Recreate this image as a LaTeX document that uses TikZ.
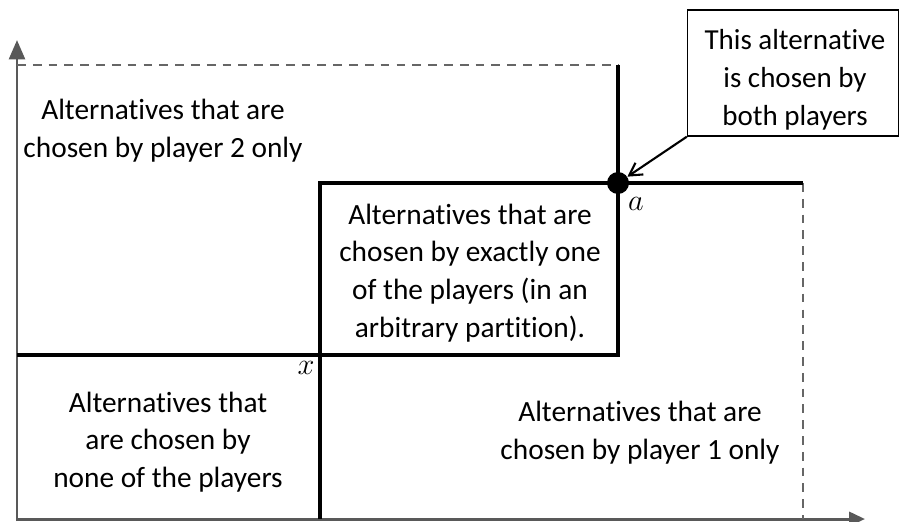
\documentclass[tikz,border=0pt]{standalone}
\usepackage{fontspec}
\setmainfont{Carlito}[Ligatures=NoCommon]
\usetikzlibrary{arrows.meta}
\begin{document}
\begin{tikzpicture}[x=0.02cm, y=-0.02cm,
    axis/.style={draw=black!65, line width=1.7pt},
    bound/.style={line width=2.8pt},
    limit/.style={draw=black!60, line width=1.1pt, dash pattern=on 5pt off 4pt},
    region/.style={align=center, font=\fontsize{16.7}{21.5}\selectfont},
    mark label/.style={font=\fontsize{17}{20}\selectfont},
    callout/.style={draw, line width=0.8pt, minimum width=4.22cm, minimum height=2.52cm}]

    \useasboundingbox (0,0) rectangle (899,521);

    % Axes
    \draw[axis, -{Triangle[length=11pt, width=9pt]}] (17,521) -- (17,40);
    \draw[axis, -{Triangle[length=9pt, width=8pt]}] (17,519) -- (865,519);

    % Dashed limits
    \draw[limit] (17,65) -- (618,65);
    \draw[limit] (803,183) -- (803,519);

    % Thick boundaries
    \draw[bound] (618,65) -- (618,355) -- (17,355);
    \draw[bound] (320,519) -- (320,183) -- (803,183);

    % Points
    \node[circle, fill, inner sep=0pt, minimum size=0.44cm] (pointA) at (618,183) {};
    \node[mark label] (labelA) at (636,204) {$a$};
    \node[mark label] (labelX) at (306,368) {$x$};

    % Regions
    \node[region] (onlyTwo) at (163,131) {Alternatives that are\\chosen by player 2 only};
    \node[region] (exactlyOne) at (470,273) {Alternatives that are\\chosen by exactly one\\of the players (in an\\arbitrary partition).};
    \node[region] (noneChosen) at (168,442) {Alternatives that\\are chosen by\\none of the players};
    \node[region] (onlyOne) at (640,433) {Alternatives that are\\chosen by player 1 only};

    % Callout
    \node[callout] (both) at (793,73) {};
    \node[region, font=\fontsize{16.5}{21.5}\selectfont] (bothText) at (795,80) {This alternative\\is chosen by\\both players};
    \draw[line width=1.2pt, -{Straight Barb[length=7pt, width=8pt]}] (both.south west) -- (pointA);

\end{tikzpicture}
\end{document}
